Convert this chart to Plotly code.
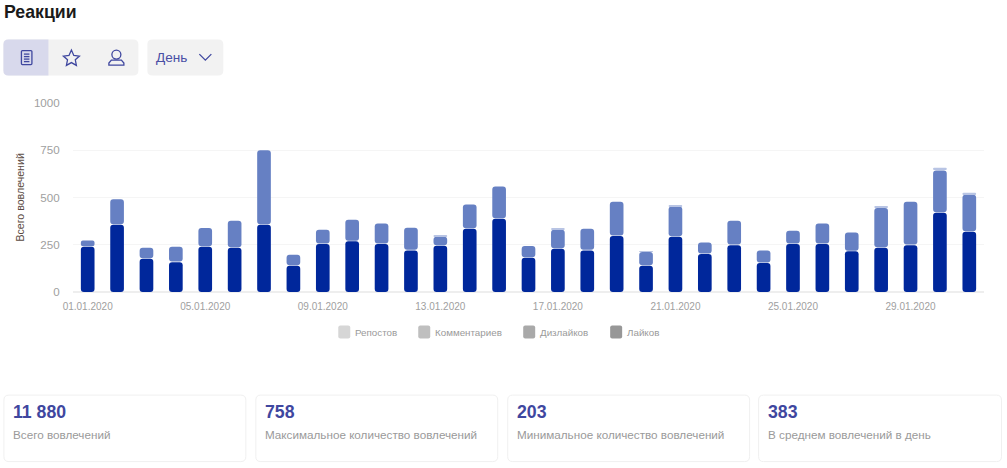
import plotly.graph_objects as go

dates = [f"{d:02d}.01.2020" for d in range(1, 32)]
tick_dates = dates[::4]

likes = [239, 356, 176, 158, 239, 234, 356, 139, 254, 268, 254, 220, 245, 334, 387, 181,
         229, 220, 296, 139, 292, 201, 248, 153, 254, 254, 215, 234, 248, 419, 319]
comments = [34, 135, 58, 81, 99, 143, 394, 58, 75, 114, 109, 120, 47, 129, 171, 62,
            100, 114, 181, 72, 160, 61, 129, 67, 70, 109, 100, 210, 229, 224, 195]
dislikes = [0, 0, 0, 0, 0, 0, 0, 0, 0, 0, 0, 0, 9, 0, 0, 0,
            7, 0, 0, 5, 6, 0, 0, 0, 0, 0, 0, 10, 0, 14, 11]

legend_names = ["Репостов", "Комментариев", "Дизлайков", "Лайков"]
legend_colors = ["#d6d6d6", "#bfbfbf", "#a9a9a9", "#979797"]
legend_x = [338, 418, 523, 610]

card_values = ["11 880", "758", "203", "383"]
card_labels = ["Всего вовлечений", "Максимальное количество вовлечений",
               "Минимальное количество вовлечений", "В среднем вовлечений в день"]
card_x = [(3, 246), (255, 498), (507, 750), (758, 1002)]

W, H = 1007, 468
LEFT, RIGHT, TOP, BOTTOM = 72.6, 984, 103.4, 292.4
FONT = "Liberation Sans"
ACCENT = "#3f479f"
GAP = 3  # white space between stacked segments, in axis units


def px(x):
    return (x - LEFT) / (RIGHT - LEFT)


def py(y):
    return 1 - (y - TOP) / (BOTTOM - TOP)


def rounded(x0, y0, x1, y1, r=5, left=True, right=True):
    rl = r if left else 0
    rr = r if right else 0
    return (
        f"M{px(x0 + rl)},{py(y0)} L{px(x1 - rr)},{py(y0)} "
        f"Q{px(x1)},{py(y0)} {px(x1)},{py(y0 + rr)} L{px(x1)},{py(y1 - rr)} "
        f"Q{px(x1)},{py(y1)} {px(x1 - rr)},{py(y1)} L{px(x0 + rl)},{py(y1)} "
        f"Q{px(x0)},{py(y1)} {px(x0)},{py(y1 - rl)} L{px(x0)},{py(y0 + rl)} "
        f"Q{px(x0)},{py(y0)} {px(x0 + rl)},{py(y0)} Z"
    )


def path_of(points, close=False):
    d = "M" + " L".join(f"{px(x)},{py(y)}" for x, y in points)
    return d + (" Z" if close else "")


def box(x0, y0, x1, y1, fill, line=None, r=5, **kw):
    return dict(type="path", xref="paper", yref="paper", path=rounded(x0, y0, x1, y1, r, **kw),
                fillcolor=fill, line=dict(color=line or fill, width=1 if line else 0), layer="below")


def stroke(points, close=False):
    return dict(type="path", xref="paper", yref="paper", path=path_of(points, close),
                line=dict(color=ACCENT, width=1.3))


def text(x, y, s, size, color, bold=False, xanchor="left", **kw):
    return dict(xref="paper", yref="paper", x=px(x), y=py(y), text=f"<b>{s}</b>" if bold else s,
                showarrow=False, xanchor=xanchor, yanchor="middle",
                font=dict(family=FONT, size=size, color=color), **kw)


def add_segment(fig, low, high, color):
    # an explicit base makes plotly round all four corners of the bar
    fig.add_trace(go.Bar(
        x=dates, y=[b - a for a, b in zip(low, high)], base=low, width=0.465,
        marker=dict(color=color, cornerradius=3.5, line=dict(width=0)),
        showlegend=False, hoverinfo="skip",
    ))


fig = go.Figure()

tops_likes = likes
tops_comments = [a + b for a, b in zip(likes, comments)]
tops_dislikes = [a + b for a, b in zip(tops_comments, dislikes)]

add_segment(fig, [0] * len(dates), tops_likes, "#00279b")
add_segment(fig, [a + GAP for a in tops_likes], tops_comments, "#6680c3")
sliver_low = [a + GAP if d else a for a, d in zip(tops_comments, dislikes)]
add_segment(fig, sliver_low, tops_dislikes, "#b8c4e4")

shapes = []
# toolbar
shapes.append(box(3, 40, 138, 76, "#f2f2f2"))
shapes.append(box(3, 40, 48, 76, "#d8d9ec", right=False))
shapes.append(box(147, 40, 223, 76, "#f2f2f2"))
# document icon
shapes.append(dict(type="path", xref="paper", yref="paper", path=rounded(21, 51, 31.5, 65, 1),
                   line=dict(color=ACCENT, width=1.3)))
for y in (54.5, 57, 59.5, 62):
    shapes.append(stroke([(23.5, y), (29, y)]))
# star icon
shapes.append(stroke([(71, 50.5), (73.4, 55.8), (79, 56.5), (74.9, 60.2), (76, 65.8), (71, 63),
                      (66, 65.8), (67.1, 60.2), (63, 56.5), (68.6, 55.8)], close=True))
# person icon
shapes.append(dict(type="circle", xref="paper", yref="paper", x0=px(111.5), x1=px(120.5),
                   y0=py(59.5), y1=py(50.5), line=dict(color=ACCENT, width=1.3)))
shapes.append(stroke([(108.5, 65.5), (123.5, 65.5), (123.5, 63.5), (121, 60.5), (111, 60.5),
                      (108.5, 63.5)], close=True))
# chevron
shapes.append(stroke([(199, 54.5), (205, 60.5), (211, 54.5)]))

annotations = [
    text(2, 12, "Реакции", 17.7, "#1a1a1a", bold=True),
    text(154, 57.5, "День", 13.6, "#4a4fa5"),
    text(19.5, 198, "Всего вовлечений", 10.6, "#5a4a42", xanchor="center", textangle=-90),
]

for name, color, x in zip(legend_names, legend_colors, legend_x):
    shapes.append(box(x, 326, x + 12, 339, color, r=2))
    annotations.append(text(x + 14.5, 332.5, name, 9.8, "#9a9a9a"))

for (x0, x1), value, label in zip(card_x, card_values, card_labels):
    shapes.append(box(x0 + 0.5, 395.5, x1 - 0.5, 462, "#ffffff", line="#f0f0f0"))
    annotations.append(text(x0 + 7.5, 412, value, 17.7, ACCENT, bold=True))
    annotations.append(text(x0 + 7.5, 435, label, 11.7, "#9a9a9a"))

fig.update_layout(
    width=W, height=H, barmode="overlay", autosize=False,
    margin=dict(l=LEFT, r=W - RIGHT, t=TOP, b=H - BOTTOM, pad=0),
    paper_bgcolor="white", plot_bgcolor="white",
    font=dict(family=FONT),
    shapes=shapes, annotations=annotations, showlegend=False,
)
fig.update_xaxes(
    type="category", categoryorder="array", categoryarray=dates,
    tickmode="array", tickvals=tick_dates, ticktext=tick_dates, tickangle=0,
    tickfont=dict(size=10, color="#a0a0a0"), ticks="outside", ticklen=5, tickcolor="white",
    showgrid=False, showline=False, zeroline=False,
)
fig.update_yaxes(
    range=[0, 1000], tickvals=[0, 250, 500, 750, 1000],
    tickfont=dict(size=11.6, color="#a0a0a0"), ticks="outside", ticklen=10, tickcolor="white",
    gridcolor="#f5f5f5", zeroline=True, zerolinecolor="#eeeeee", showline=False,
)

fig.write_html("out.html", config=dict(displayModeBar=False),
               post_script="document.body.style.margin='0';")
